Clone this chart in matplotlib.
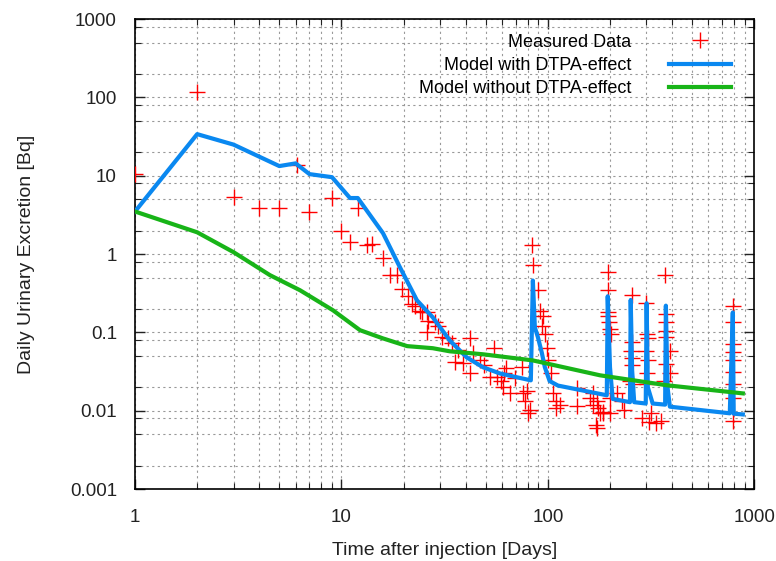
import matplotlib
matplotlib.use('Agg')
import matplotlib.pyplot as plt
from matplotlib.ticker import LogLocator, FuncFormatter, NullFormatter

plt.rcParams['font.family'] = ['Liberation Sans', 'DejaVu Sans']

# measured data (days, Bq)
meas_x = [1, 2, 3, 4, 5, 6.1, 7, 9, 10, 11, 12, 13.3, 14, 15.9, 17.2, 18.6, 19.6,
          21, 22, 22.7, 24, 24.5, 26, 26.2, 26, 28.3, 29.3, 30.6, 32.7, 34.2, 41.9,
          36.6, 35.4, 38.8, 41.9, 43.3, 46.8, 49.2, 55.1, 52.6, 56.5, 59.6, 61.6,
          63, 60.6, 65.3, 69.2, 74.6, 75.6, 77.3, 79, 81.6, 80,
          83.6, 84.6, 89.3, 91.5, 93.6, 96.7, 98.8, 99.9, 104, 106, 110, 94.6,
          110, 114, 138, 139, 173, 173, 179, 184, 165, 200, 160,
          195, 195, 195, 198, 200, 203, 195, 200, 175, 184, 165, 172, 228, 235, 217,
          255, 255, 255, 255, 252, 250, 258,
          300, 302, 305, 300, 305, 302, 302, 317, 310, 285, 334,
          369, 372, 375, 372, 375, 390, 372, 390, 365, 355,
          787, 787, 787, 787, 787, 787, 787, 787, 787]
meas_y = [10.5, 117, 5.4, 3.86, 3.9, 13.6, 3.5, 5.2, 1.96, 1.42, 3.9, 1.3, 1.33, 0.9, 0.54, 0.54, 0.36,
          0.29, 0.23, 0.22, 0.19, 0.18, 0.18, 0.14, 0.10, 0.135, 0.12, 0.087, 0.085, 0.073, 0.085,
          0.059, 0.042, 0.041, 0.030, 0.055, 0.044, 0.039, 0.063, 0.027, 0.027, 0.024, 0.030,
          0.035, 0.020, 0.0167, 0.026, 0.036, 0.0167, 0.0135, 0.018, 0.0102, 0.0093,
          1.3, 0.72, 0.35, 0.19, 0.12, 0.097, 0.063, 0.045, 0.030, 0.0167, 0.011, 0.16,
          0.0135, 0.012, 0.0115, 0.0197, 0.0135, 0.0061, 0.0093, 0.0096, 0.012, 0.0093, 0.0146,
          0.59, 0.35, 0.16, 0.135, 0.11, 0.097, 0.18, 0.0146, 0.011, 0.0093, 0.0167, 0.0065, 0.0135, 0.0102, 0.0167,
          0.30, 0.075, 0.047, 0.038, 0.058, 0.024, 0.022,
          0.24, 0.097, 0.085, 0.058, 0.045, 0.030, 0.022, 0.0093, 0.0072, 0.0081, 0.0070,
          0.54, 0.17, 0.135, 0.105, 0.087, 0.058, 0.040, 0.030, 0.024, 0.0075,
          0.22, 0.135, 0.072, 0.056, 0.045, 0.031, 0.022, 0.0146, 0.0075]

# model with DTPA effect
with_x = [1, 2, 3, 5, 6, 7, 9, 11, 12, 15.9, 19.2, 23.2, 27.7, 33.5, 40.5, 48.5, 58.6, 70, 82.7,
          84.6, 86.5, 89.5, 93.5, 96.7, 102, 112, 193,
          195, 200, 206, 250,
          252, 256, 262, 298,
          301, 305, 322, 370,
          373, 380, 390, 761,
          787, 795, 880]
with_y = [3.5, 34, 25, 13.3, 14.4, 10.5, 9.6, 5.2, 5.2, 1.85, 0.68, 0.258, 0.156, 0.079, 0.048, 0.036, 0.030, 0.027, 0.0245,
          0.46, 0.116, 0.087, 0.055, 0.036, 0.024, 0.021, 0.0158,
          0.29, 0.036, 0.0142, 0.0129,
          0.26, 0.033, 0.0129, 0.0124,
          0.236, 0.02, 0.0124, 0.012,
          0.22, 0.02, 0.0113, 0.0093,
          0.18, 0.0092, 0.009]

# model without DTPA effect
without_x = [1, 2, 3, 4.5, 6.3, 9.1, 12.3, 15.9, 20.8, 27.7, 33.5, 48.5, 84.6, 179, 377, 880]
without_y = [3.5, 1.9, 1.06, 0.54, 0.346, 0.192, 0.107, 0.084, 0.067, 0.063, 0.0575, 0.0527, 0.044, 0.0284, 0.0212, 0.0167]

fig = plt.figure(figsize=(7.76, 5.61), dpi=100)
ax = fig.add_axes([0.174, 0.128, 0.798, 0.838])

ax.plot(meas_x, meas_y, '+', color='#ff0000', ms=12, mew=1.0, label='Measured Data', zorder=3)
ax.plot(with_x, with_y, '-', color='#0a88f0', lw=3, label='Model with DTPA-effect', zorder=4)
ax.plot(without_x, without_y, '-', color='#18b418', lw=3, label='Model without DTPA-effect', zorder=4)

ax.set_xscale('log')
ax.set_yscale('log')
ax.set_xlim(1, 1000)
ax.set_ylim(0.001, 1000)

ax.xaxis.set_major_locator(LogLocator(base=10, numticks=10))
ax.xaxis.set_minor_locator(LogLocator(base=10, subs=range(2, 10), numticks=20))
ax.yaxis.set_major_locator(LogLocator(base=10, numticks=10))
ax.yaxis.set_minor_locator(LogLocator(base=10, subs=[2, 5, 8], numticks=20))
fmt = FuncFormatter(lambda v, p: '%g' % v)
ax.xaxis.set_major_formatter(fmt)
ax.yaxis.set_major_formatter(fmt)
ax.xaxis.set_minor_formatter(NullFormatter())
ax.yaxis.set_minor_formatter(NullFormatter())

ax.tick_params(which='both', direction='in', top=True, right=True, labelsize=13.5, colors='#222222')
ax.tick_params(which='major', length=7, width=1)
ax.tick_params(which='minor', length=4, width=0.8)
ax.tick_params(axis='x', which='major', pad=14)
ax.tick_params(axis='y', which='major', pad=13)

ax.grid(True, which='both', color='#999999', linestyle=(0, (2, 3)), linewidth=0.8)
for s in ax.spines.values():
    s.set_linewidth(1.2)

ax.set_xlabel('Time after injection [Days]', fontsize=14, labelpad=12, color='#222222')
ax.set_ylabel('Daily Urinary Excretion [Bq]', fontsize=14, labelpad=25, color='#222222')

ax.legend(loc='upper right', bbox_to_anchor=(0.985, 1.0), frameon=False, markerfirst=False,
          alignment='right', fontsize=13, handlelength=3.4, handletextpad=2.1,
          labelspacing=0.35, borderaxespad=0.4)

plt.savefig('out.png', dpi=100)
